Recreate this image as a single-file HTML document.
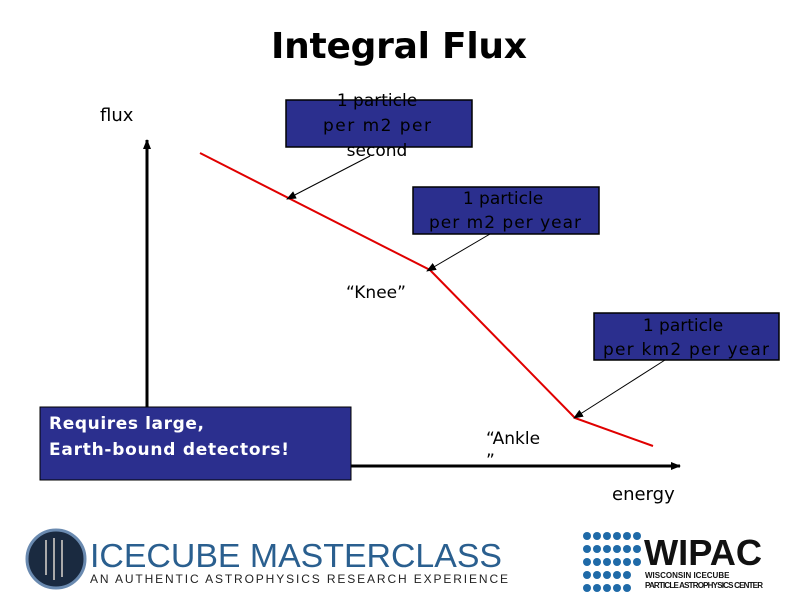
<!DOCTYPE html>
<html><head><style>body{margin:0;background:#fff}svg{display:block}</style></head><body>
<svg width="799" height="600" xmlns="http://www.w3.org/2000/svg" font-family="DejaVu Sans, sans-serif">
<defs><marker id="a" markerWidth="10" markerHeight="8" refX="9" refY="4" orient="auto" markerUnits="userSpaceOnUse"><path d="M0,0L10,4L0,8z" fill="#000"/></marker></defs>
<text x="399" y="58" text-anchor="middle" font-size="36" font-weight="bold" textLength="256">Integral Flux</text>
<text x="100" y="121" font-size="18">flux</text>
<line x1="147" y1="470" x2="147" y2="140" stroke="#000" stroke-width="3" marker-end="url(#a)"/>
<line x1="145" y1="466" x2="680" y2="466" stroke="#000" stroke-width="3" marker-end="url(#a)"/>
<polyline points="200,153 430,270 575,418 653,446" fill="none" stroke="#e00000" stroke-width="2"/>
<rect x="286" y="100" width="186" height="47" fill="#2b2f8e" stroke="#000" stroke-width="1.5"/>
<text font-size="17" text-anchor="middle"><tspan x="377" y="106">1 particle</tspan><tspan x="377" y="131" textLength="108">per m2 per</tspan><tspan x="377" y="156">second</tspan></text>
<rect x="413" y="187" width="186" height="47" fill="#2b2f8e" stroke="#000" stroke-width="1.5"/>
<text font-size="17" text-anchor="middle"><tspan x="503" y="204">1 particle</tspan><tspan x="505" y="228" textLength="152">per m2 per year</tspan></text>
<rect x="594" y="313" width="185" height="47" fill="#2b2f8e" stroke="#000" stroke-width="1.5"/>
<text font-size="17" text-anchor="middle"><tspan x="683" y="331">1 particle</tspan><tspan x="686" y="355" textLength="166">per km2 per year</tspan></text>
<line x1="370" y1="156" x2="287" y2="199" stroke="#000" stroke-width="1" marker-end="url(#a)"/>
<line x1="490" y1="234" x2="427" y2="271" stroke="#000" stroke-width="1" marker-end="url(#a)"/>
<line x1="665" y1="360" x2="574" y2="418" stroke="#000" stroke-width="1" marker-end="url(#a)"/>
<text x="346" y="298" font-size="17">“Knee”</text>
<text font-size="17"><tspan x="486" y="444">“Ankle</tspan><tspan x="486" y="466">”</tspan></text>
<text x="612" y="500" font-size="18">energy</text>
<rect x="40" y="407" width="311" height="73" fill="#2b2f8e" stroke="#000" stroke-width="1"/>
<text font-size="17" fill="#fff" font-weight="bold"><tspan x="49" y="429" textLength="155">Requires large,</tspan><tspan x="49" y="455" textLength="240">Earth-bound detectors!</tspan></text>
<circle cx="56" cy="559" r="29" fill="#1a2a40" stroke="#6a8ab0" stroke-width="3"/>
<g stroke="#aaa" stroke-width="2"><line x1="46" y1="540" x2="46" y2="575"/><line x1="54" y1="538" x2="54" y2="580"/><line x1="62" y1="540" x2="62" y2="577"/></g>
<text x="90" y="567" font-size="33" fill="#2a5f8f" font-family="Liberation Sans, sans-serif" textLength="412" lengthAdjust="spacingAndGlyphs">ICECUBE MASTERCLASS</text>
<text x="90" y="583" font-size="12" fill="#222" font-family="Liberation Sans, sans-serif" textLength="418">AN AUTHENTIC ASTROPHYSICS RESEARCH EXPERIENCE</text>
<g fill="#1f6aa8">
<circle cx="587" cy="536" r="4"/><circle cx="597" cy="536" r="4"/><circle cx="607" cy="536" r="4"/><circle cx="617" cy="536" r="4"/><circle cx="627" cy="536" r="4"/><circle cx="637" cy="536" r="4"/>
<circle cx="587" cy="549" r="4"/><circle cx="597" cy="549" r="4"/><circle cx="607" cy="549" r="4"/><circle cx="617" cy="549" r="4"/><circle cx="627" cy="549" r="4"/><circle cx="637" cy="549" r="4"/>
<circle cx="587" cy="562" r="4"/><circle cx="597" cy="562" r="4"/><circle cx="607" cy="562" r="4"/><circle cx="617" cy="562" r="4"/><circle cx="627" cy="562" r="4"/><circle cx="637" cy="562" r="4"/>
<circle cx="587" cy="575" r="4"/><circle cx="597" cy="575" r="4"/><circle cx="607" cy="575" r="4"/><circle cx="617" cy="575" r="4"/><circle cx="627" cy="575" r="4"/>
<circle cx="587" cy="588" r="4"/><circle cx="597" cy="588" r="4"/><circle cx="607" cy="588" r="4"/><circle cx="617" cy="588" r="4"/><circle cx="627" cy="588" r="4"/>
</g>
<text x="644" y="565" font-size="36" font-weight="bold" fill="#111" font-family="Liberation Sans, sans-serif" textLength="118" lengthAdjust="spacingAndGlyphs">WIPAC</text>
<text x="645" y="578" font-size="8" font-weight="bold" fill="#111" font-family="Liberation Sans, sans-serif">WISCONSIN ICECUBE</text>
<text x="645" y="588" font-size="8" font-weight="bold" fill="#111" font-family="Liberation Sans, sans-serif" textLength="118">PARTICLE ASTROPHYSICS CENTER</text>
</svg>
</body></html>
